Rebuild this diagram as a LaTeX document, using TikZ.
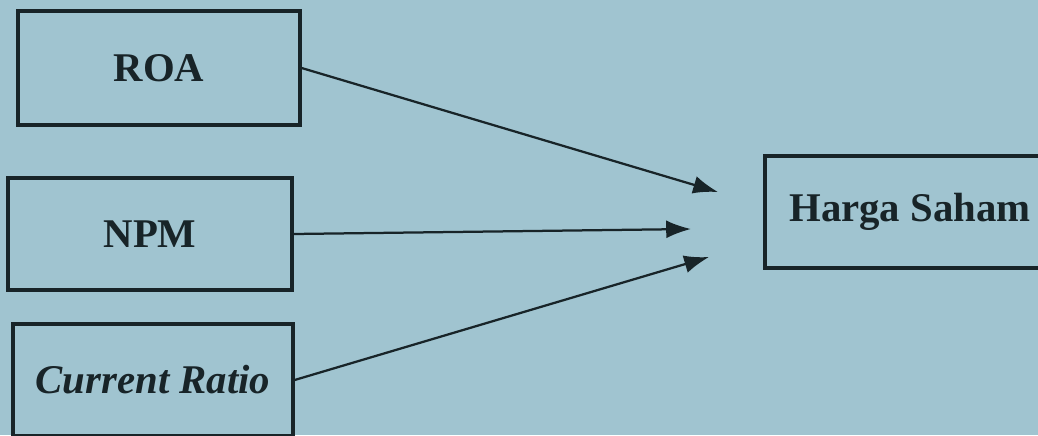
\documentclass[tikz,border=0pt]{standalone}
\usepackage{fontspec}
\setmainfont{Liberation Serif}
\usetikzlibrary{arrows.meta}

\definecolor{paper}{RGB}{160,196,208}
\definecolor{ink}{RGB}{24,36,40}

\tikzset{
    var/.style={draw=ink, line width=2.3pt, text=ink, font=\fontsize{29}{32}\selectfont\bfseries,
        minimum height=2.85cm, inner sep=0pt},
    arr/.style={draw=ink, line width=1.6pt, -{Latex[length=0.62cm, width=0.45cm]}}
}

\begin{document}
\begin{tikzpicture}[x=0.025cm, y=-0.025cm]
    % paper
    \fill [paper] (0,0) rectangle (1038,435);
    \clip (0,0) rectangle (1038,435);

    \node [var, minimum width=7.05cm] (roa) at (159,68) {ROA};
    \node [var, minimum width=7.1cm, minimum height=2.8cm] (npm) at (150,234) {NPM};
    \node [var, minimum width=7cm, minimum height=2.8cm] (cr) at (153,380) {\itshape Current Ratio};

    \node [var, minimum width=7.25cm, minimum height=2.8cm] (harga) at (910,212) {Harga Saham};

    % arrow ends
    \coordinate (roa') at (718,192);
    \coordinate (npm') at (691,229);
    \coordinate (cr') at (709,257);

    \draw [arr] (roa.east) -- (roa');
    \draw [arr] (npm.east) -- (npm');
    \draw [arr] (cr.east) -- (cr');
\end{tikzpicture}
\end{document}
